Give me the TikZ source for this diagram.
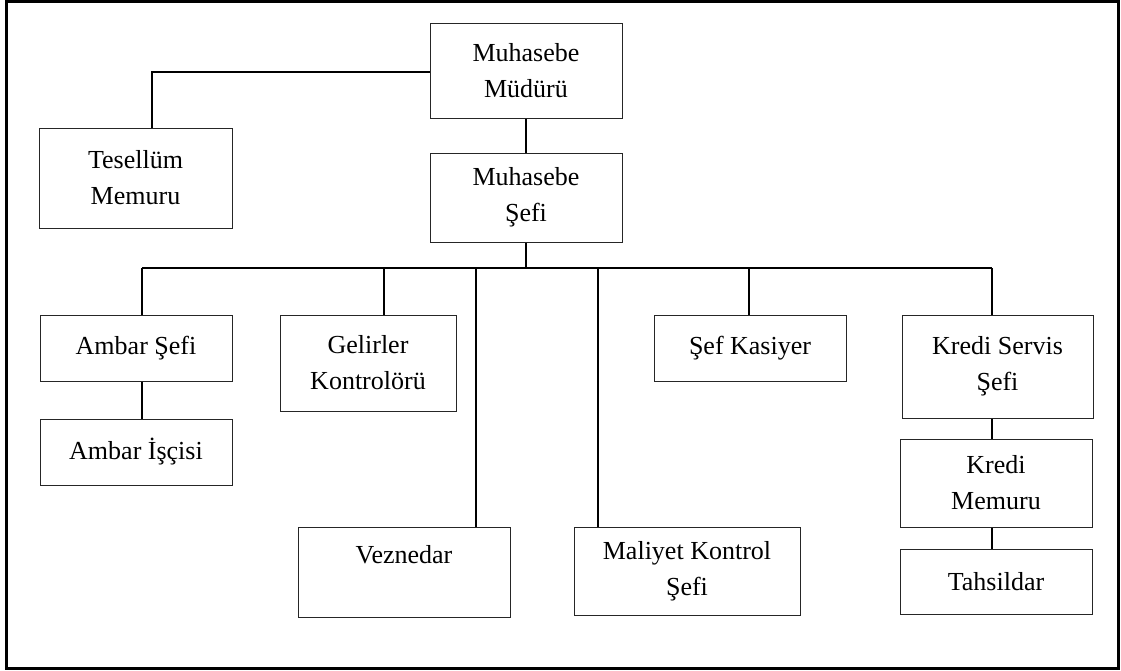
\documentclass[tikz,border=0pt]{standalone}
\usepackage{fontspec}
\setmainfont{Liberation Serif}
\tikzset{
  box/.style={draw=black!85, line width=1pt, rectangle, align=center, inner sep=0pt,
    font=\fontsize{26}{36}\selectfont},
  conn/.style={draw=black, line width=1.6pt},
  frame/.style={draw=black, line width=3pt}
}
\begin{document}
\begin{tikzpicture}[x=1pt,y=-1pt]
\useasboundingbox (0,0) rectangle (1121,670);
\draw[frame] (6,1.5) rectangle (1118,668);

\node[box, minimum width=192, minimum height=95] (mud) at (526,70.5) {Muhasebe\\Müdürü};
\node[box, minimum width=193, minimum height=100] (tes) at (135.5,178) {Tesellüm\\Memuru};
\node[box, minimum width=192, minimum height=89] (sef) at (526,197.5) {Muhasebe\\Şefi};
\node[box, minimum width=192, minimum height=66] (ambs) at (136,348) {Ambar Şefi};
\node[box, minimum width=192, minimum height=66] (ambi) at (136,452) {Ambar İşçisi};
\node[box, minimum width=176, minimum height=96] (gel) at (368,363) {Gelirler\\Kontrolörü};
\node[box, minimum width=212, minimum height=90] (vez) at (404,572) {Veznedar\\~};
\node[box, minimum width=226, minimum height=88] (mal) at (687,571) {Maliyet Kontrol\\Şefi};
\node[box, minimum width=192, minimum height=66] (kas) at (750,348) {Şef Kasiyer};
\node[box, minimum width=191, minimum height=103] (kss) at (997.5,366.5) {Kredi Servis\\Şefi};
\node[box, minimum width=192, minimum height=88] (kme) at (996,483) {Kredi\\Memuru};
\node[box, minimum width=192, minimum height=65] (tah) at (996,581.5) {Tahsildar};

% top connectors
\coordinate (tc) at (152,72);
\draw[conn] (mud.west |- tc) -- (tc) -- (tc |- tes.north);
\draw[conn] (mud.south) -- (sef.north);

% bus
\coordinate (b1) at (142,268);
\coordinate (b2) at (384,268);
\coordinate (b3) at (476,268);
\coordinate (b4) at (598,268);
\coordinate (b5) at (749,268);
\coordinate (b6) at (992,268);
\draw[conn] (sef.south) -- (sef.south |- b1);
\draw[conn] (b1) -- (b6);
\draw[conn] (b1) -- (b1 |- ambs.north);
\draw[conn] (b2) -- (b2 |- gel.north);
\draw[conn] (b3) -- (b3 |- vez.north);
\draw[conn] (b4) -- (b4 |- mal.north);
\draw[conn] (b5) -- (b5 |- kas.north);
\draw[conn] (b6) -- (b6 |- kss.north);

\draw[conn] (b1 |- ambs.south) -- (b1 |- ambi.north);
\draw[conn] (b6 |- kss.south) -- (b6 |- kme.north);
\draw[conn] (b6 |- kme.south) -- (b6 |- tah.north);
\end{tikzpicture}
\end{document}
